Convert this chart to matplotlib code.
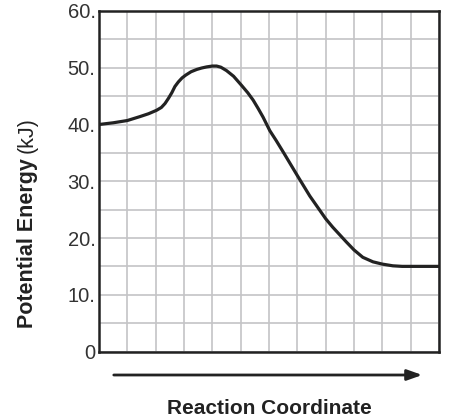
import matplotlib
matplotlib.use('Agg')
import matplotlib.pyplot as plt
from matplotlib.patches import FancyArrowPatch

plt.rcParams['font.family'] = ['Liberation Sans', 'DejaVu Sans']

# reaction coordinate (grid columns) and potential energy (kJ)
coord = [0, 0.5, 1.0, 1.45, 1.75, 2.03, 2.2, 2.33, 2.45, 2.57, 2.68, 2.8, 2.93,
         3.06, 3.25, 3.45, 3.62, 3.8, 4.0, 4.15, 4.3, 4.5, 4.75, 5.03, 5.25,
         5.44, 5.62, 5.79, 6.03, 6.25, 6.52, 7.0, 7.44, 8.0, 8.25, 8.49, 8.73,
         9.0, 9.31, 9.67, 10.0, 10.37, 10.7, 12.0]
energy = [40.0, 40.3, 40.7, 41.4, 41.9, 42.5, 43.0, 43.7, 44.6, 45.6, 46.7, 47.5, 48.2,
          48.7, 49.3, 49.7, 49.95, 50.15, 50.3, 50.3, 50.1, 49.5, 48.5, 46.9, 45.6,
          44.3, 42.8, 41.3, 38.9, 37.2, 35.0, 31.0, 27.4, 23.4, 21.9, 20.6, 19.3,
          17.9, 16.6, 15.8, 15.4, 15.1, 15.0, 15.0]

y_ticks = list(range(0, 61, 5))
y_labels = ['0' if v == 0 else ('%d.' % v if v % 10 == 0 else '') for v in y_ticks]
x_ticks = list(range(0, 13))

fig = plt.figure(figsize=(4.6, 4.2), dpi=100)
ax = fig.add_axes([99 / 460, 1 - 351.5 / 420, 340 / 460, 340.5 / 420])

ax.plot(coord, energy, color='#222222', lw=2.3, solid_joinstyle='round',
        solid_capstyle='butt', zorder=3)

ax.set_xlim(0, 12)
ax.set_ylim(0, 60)
ax.set_xticks(x_ticks)
ax.set_xticklabels([])
ax.set_yticks(y_ticks)
ax.set_yticklabels(y_labels, fontsize=14.5, color='#333333')
ax.tick_params(length=0, pad=2.5)
ax.grid(True, color='#c4c4c6', lw=1.2, zorder=0)
ax.set_axisbelow(True)
for s in ax.spines.values():
    s.set_color('#222222')
    s.set_linewidth(1.8)

# y axis title: bold part and plain unit
t1 = fig.text(27.5 / 460, 1 - 328 / 420, 'Potential Energy', rotation=90,
              fontsize=15.5, fontweight='bold', color='#222222',
              ha='center', va='bottom')
ax.annotate('(kJ)', xy=(0.5, 1), xycoords=t1, xytext=(0, 4),
            textcoords='offset points', rotation=90, fontsize=15.5,
            color='#222222', ha='center', va='bottom')

# reaction coordinate arrow
arr = FancyArrowPatch((111 / 460, 1 - 375 / 420), (425 / 460, 1 - 375 / 420),
                      transform=fig.transFigure, arrowstyle='-|>,head_length=0.45,head_width=0.16',
                      mutation_scale=20, color='#222222', lw=2)
fig.patches.append(arr)

fig.text(269.5 / 460, 1 - 414 / 420, 'Reaction Coordinate', fontsize=15,
         fontweight='bold', color='#222222', ha='center', va='baseline')

fig.savefig('out.png', dpi=100)
